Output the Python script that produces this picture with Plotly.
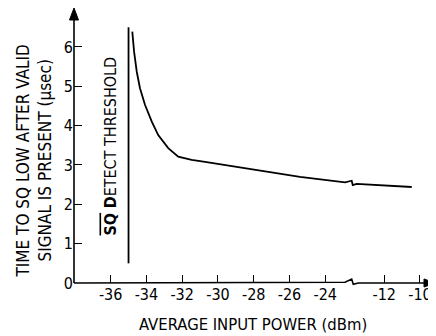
import plotly.graph_objects as go

# ---------------- data (actual dBm / usec) ----------------
curve_x_left = [-34.79, -34.69, -34.54, -34.36, -34.08, -33.70, -33.34, -32.78,
                -32.22, -31.47, -30.72, -29.14, -27.27, -25.41, -24.29, -22.89, -22.52]
curve_y_left = [6.39, 5.88, 5.37, 4.95, 4.53, 4.10, 3.76, 3.43,
                3.21, 3.13, 3.08, 2.96, 2.83, 2.70, 2.64, 2.56, 2.60]
curve_x_right = [-13.76, -13.54, -12.8, -12.24, -10.46]
curve_y_right = [2.49, 2.52, 2.50, 2.49, 2.44]

threshold_x = -35.0
threshold_y = [0.5, 6.5]

x_tick_values = [-36, -34, -32, -30, -28, -26, -24, -12, -10]
y_tick_values = [0, 1, 2, 3, 4, 5, 6]

BREAK_SHIFT = 8.7  # values right of the axis break are drawn shifted left


def disp(x):
    return x - BREAK_SHIFT if x > -20 else x


XMIN, XMAX = -38.05, -17.86
YMIN, YMAX = 0.0, 6.99
W, H = 428, 328
L, R, T, B = 66, 1, 0, 53
PW, PH = W - L - R, H - T - B


def px_x(d):
    return (d - XMIN) / (XMAX - XMIN)


def px_y(v):
    return (v - YMIN) / (YMAX - YMIN)


FONT = "DejaVu Sans Condensed, Liberation Sans Narrow, sans-serif"

fig = go.Figure()

cx = [disp(v) for v in curve_x_left + curve_x_right]
cy = curve_y_left + curve_y_right
fig.add_trace(go.Scatter(x=cx, y=cy, mode="lines",
                         line=dict(color="black", width=1.8), hoverinfo="skip"))
fig.add_trace(go.Scatter(x=[disp(threshold_x)] * 2, y=threshold_y, mode="lines",
                         line=dict(color="black", width=1.8), hoverinfo="skip"))

# axis lines (with break on x) in paper coordinates
bx = [-22.89, -22.52, -22.43, -22.15]
by = [0.02, 0.10, -0.03, 0.0]
pts = [(0, 0)] + [(px_x(a), px_y(b)) for a, b in zip(bx, by)] + [(1 - 10 / PW, 0)]
path = "M " + " L ".join(f"{a:.5f},{b:.5f}" for a, b in pts)
shapes = [
    dict(type="path", xref="paper", yref="paper", path=path,
         line=dict(color="black", width=1.6)),
    dict(type="line", xref="paper", yref="paper", x0=0, y0=0, x1=0, y1=1 - 10 / PH,
         line=dict(color="black", width=1.6)),
    # arrow heads
    dict(type="path", xref="paper", yref="paper",
         path=f"M 1,0 L {1-11/PW:.5f},{4/PH:.5f} L {1-11/PW:.5f},{-4/PH:.5f} Z",
         fillcolor="black", line=dict(color="black", width=1)),
    dict(type="path", xref="paper", yref="paper",
         path=f"M 0,1 L {-4.5/PW:.5f},{1-12/PH:.5f} L {4.5/PW:.5f},{1-12/PH:.5f} Z",
         fillcolor="black", line=dict(color="black", width=1)),
]

annotations = [
    dict(text="<span style='text-decoration:overline'><b>SQ</b></span> <b>D</b>ETECT THRESHOLD",
         x=(110 - 74) / PW, y=(283 - 146.5) / PH, xref="paper", yref="paper",
         xanchor="center", yanchor="middle", textangle=-90, showarrow=False,
         font=dict(size=16, color="black", family=FONT)),
    dict(text="TIME TO SQ LOW AFTER VALID<br>SIGNAL IS PRESENT (µsec)",
         x=(33.5 - 74) / PW, y=(283 - 161) / PH, xref="paper", yref="paper",
         xanchor="center", yanchor="middle",
         textangle=-90, showarrow=False,
         font=dict(size=17, color="black", family=FONT)),
    dict(text="AVERAGE INPUT POWER (dBm)",
         x=(253 - 74) / PW, y=(283 - 324) / PH, xref="paper", yref="paper",
         xanchor="center", yanchor="middle",
         showarrow=False, font=dict(size=16.5, color="black", family=FONT)),
]

fig.update_layout(
    width=W, height=H, margin=dict(l=L, r=R, t=T, b=B),
    paper_bgcolor="white", plot_bgcolor="white", showlegend=False,
    shapes=shapes, annotations=annotations,
    font=dict(family=FONT, size=16, color="black"),
    xaxis=dict(range=[XMIN, XMAX], showgrid=False, zeroline=False, showline=False,
               tickmode="array", tickvals=[disp(v) for v in x_tick_values],
               ticktext=[str(v) for v in x_tick_values],
               ticks="inside", ticklen=8, tickwidth=1.2, tickcolor="black",
               tickfont=dict(size=16, family=FONT)),
    yaxis=dict(range=[YMIN, YMAX], showgrid=False, zeroline=False, showline=False,
               tickmode="array", tickvals=y_tick_values,
               ticktext=[str(v) for v in y_tick_values],
               ticks="inside", ticklen=8, tickwidth=1.2, tickcolor="black",
               tickfont=dict(size=16, family=FONT)),
)

fig.write_html("out.html")
